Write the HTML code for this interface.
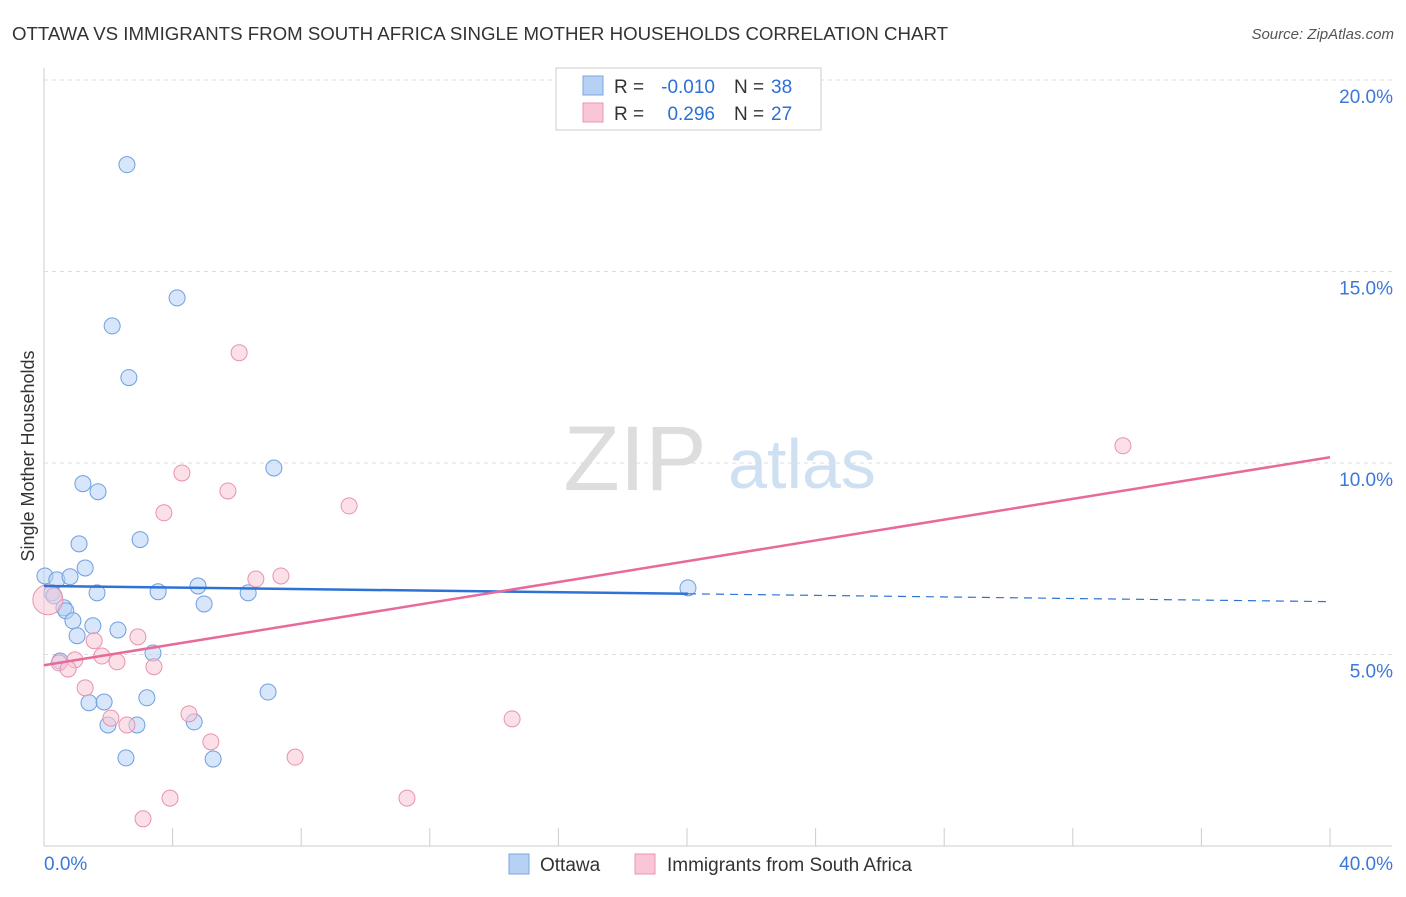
<!DOCTYPE html>
<html><head><meta charset="utf-8"><style>
body{margin:0;background:#fff;font-family:"Liberation Sans",sans-serif;}
svg text{font-family:"Liberation Sans",sans-serif;}
</style></head><body>
<svg id="chart" width="1406" height="892" xmlns="http://www.w3.org/2000/svg">
<text x="12" y="40" font-size="18" fill="#333" textLength="936" lengthAdjust="spacingAndGlyphs">OTTAWA VS IMMIGRANTS FROM SOUTH AFRICA SINGLE MOTHER HOUSEHOLDS CORRELATION CHART</text>
<text x="1394" y="39" font-size="15" fill="#555" text-anchor="end" font-style="italic">Source: ZipAtlas.com</text>
<text x="635" y="490" font-size="92" fill="#ddd" text-anchor="middle" font-family="Liberation Serif">ZIP</text>
<text x="802" y="488" font-size="70" fill="#cfe0f3" text-anchor="middle">atlas</text>
<text x="34" y="456" font-size="18" fill="#333" text-anchor="middle" transform="rotate(-90 34 456)">Single Mother Households</text>
<g id="grid"></g><g id="marks"></g>
<g>
<rect x="556" y="68" width="265" height="62" fill="#fff" stroke="#ccc"/>
<rect x="583" y="76" width="20" height="19" fill="#b7d1f5" stroke="#7aa6e0"/>
<rect x="583" y="103" width="20" height="19" fill="#f9c6d6" stroke="#ea95b1"/>
<text x="614" y="93" font-size="19" fill="#333">R =</text>
<text x="715" y="93" font-size="19" fill="#2c6fd6" text-anchor="end">-0.010</text>
<text x="734" y="93" font-size="19" fill="#333">N =</text>
<text x="771" y="93" font-size="19" fill="#2c6fd6">38</text>
<text x="614" y="120" font-size="19" fill="#333">R =</text>
<text x="715" y="120" font-size="19" fill="#2c6fd6" text-anchor="end">0.296</text>
<text x="734" y="120" font-size="19" fill="#333">N =</text>
<text x="771" y="120" font-size="19" fill="#2c6fd6">27</text>
</g>
<g>
<rect x="509" y="854" width="20" height="20" fill="#b7d1f5" stroke="#7aa6e0"/>
<text x="540" y="871" font-size="19" fill="#333">Ottawa</text>
<rect x="635" y="854" width="20" height="20" fill="#f9c6d6" stroke="#ea95b1"/>
<text x="667" y="871" font-size="19" fill="#333">Immigrants from South Africa</text>
</g>
</svg>
<script>
const yTicks=[5,10,15,20];
const xTickLabels=["0.0%","40.0%"];
const blueX=[2.58,4.14,2.12,2.64,7.15,1.21,1.68,2.99,1.09,1.28,0.03,0.40,0.81,0.25,1.65,3.55,4.79,6.35,20.03,4.98,0.62,0.68,0.90,1.52,2.30,1.03,3.39,0.50,6.97,3.20,1.40,1.87,1.99,2.89,4.67,2.55,5.26,0.31];
const blueY=[17.79,14.31,13.58,12.23,9.87,9.46,9.25,8.00,7.89,7.26,7.05,6.95,7.03,6.61,6.61,6.64,6.79,6.61,6.74,6.32,6.22,6.14,5.88,5.75,5.64,5.49,5.04,4.83,4.02,3.87,3.74,3.76,3.16,3.16,3.24,2.30,2.27,6.53];
const pinkX=[6.07,33.56,4.29,5.72,3.73,9.49,7.37,6.59,0.12,2.92,1.56,1.80,0.96,2.27,3.42,0.47,0.75,1.28,4.51,2.08,2.58,5.19,14.56,7.81,11.29,3.92,3.08];
const pinkY=[12.88,10.45,9.74,9.27,8.70,8.88,7.05,6.97,6.43,5.46,5.36,4.96,4.86,4.81,4.68,4.78,4.62,4.13,3.45,3.34,3.16,2.72,3.32,2.32,1.25,1.25,0.71];
const blueLine=[6.79,6.38];
const pinkLine=[4.72,10.15];
const X0=44,X1=1330,Y0=846;
const sx=v=>X0+(X1-X0)*v/40;
const sy=v=>Y0-38.3*v;
const NS="http://www.w3.org/2000/svg";
const grid=document.getElementById('grid'),marks=document.getElementById('marks');
function mk(t,a,p){const e=document.createElementNS(NS,t);for(const k in a)e.setAttribute(k,a[k]);p.appendChild(e);return e;}
let ax=mk('line',{x1:44,y1:68,x2:44,y2:846,stroke:'#ccc'},grid);


let bx=mk('line',{x1:44,y1:846,x2:1392,y2:846,stroke:'#ccc'},grid);


yTicks.forEach(t=>{
 const g=mk('line',{x1:44,x2:1392,y1:sy(t),y2:sy(t),stroke:'#ddd','stroke-dasharray':'4,4'},grid);
 
 
 const l=mk('text',{x:1393,y:sy(t)+23,'font-size':19,fill:'#3b78d8','text-anchor':'end'},grid);l.textContent=t.toFixed(1)+'%';
 
 
});
for(let i=1;i<=10;i++){const t=mk('line',{x1:sx(i*4),x2:sx(i*4),y1:828,y2:846,stroke:'#ccc'},grid);
 
 }
[[44,'start'],[1393,'end']].forEach((p,i)=>{const l=mk('text',{x:p[0],y:870,'font-size':19,fill:'#3b78d8','text-anchor':p[1]},grid);l.textContent=xTickLabels[i];
 
 });
function pts(xs,ys,fill,stroke,name){xs.forEach((x,i)=>{const r=(name==='south-africa-point'&&i===8)?15:8;const c=mk('circle',{cx:sx(x),cy:sy(ys[i]),r:r,fill:fill,stroke:stroke,'stroke-width':1,'fill-opacity':0.55},marks);
 
 });}
pts(blueX,blueY,'#b7d1f5','#6f9fdf','ottawa-point');
pts(pinkX,pinkY,'#f9c6d6','#e892ae','south-africa-point');
const bm=blueLine[0]+(blueLine[1]-blueLine[0])*20.03/40;
let l1=mk('line',{x1:sx(0),y1:sy(blueLine[0]),x2:sx(20.03),y2:sy(bm),stroke:'#2f72d6','stroke-width':2.5},marks);


let l2=mk('line',{x1:sx(20.03),y1:sy(bm),x2:sx(40),y2:sy(blueLine[1]),stroke:'#2f72d6','stroke-width':1.2,'stroke-dasharray':'8,6'},marks);


let l3=mk('line',{x1:sx(0),y1:sy(pinkLine[0]),x2:sx(40),y2:sy(pinkLine[1]),stroke:'#e8699a','stroke-width':2.5},marks);


</script>
</body></html>
